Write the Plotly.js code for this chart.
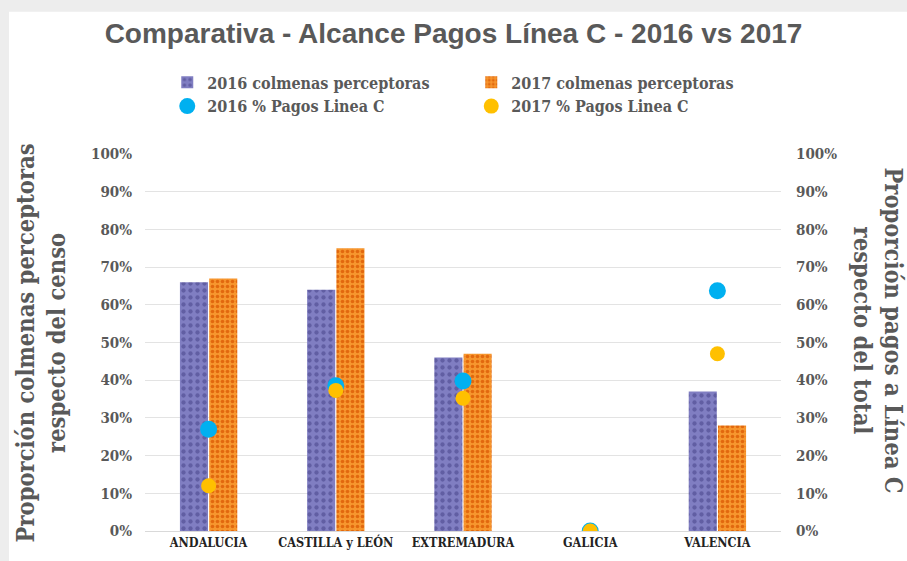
<!DOCTYPE html>
<html>
<head>
<meta charset="utf-8">
<script src="https://cdn.plot.ly/plotly-3.0.1.min.js"></script>
<style>html,body{margin:0;padding:0;background:#fff;}#chart{width:907px;height:561px;}</style>
</head>
<body>
<div id="chart"></div>
<script>
const categories = ["ANDALUCIA", "CASTILLA y LEÓN", "EXTREMADURA", "GALICIA", "VALENCIA"];
const colmenas2016 = [0.66, 0.64, 0.46, 0, 0.37];
const colmenas2017 = [0.67, 0.75, 0.47, 0, 0.28];
const pagos2016 = [0.27, 0.385, 0.398, 0, 0.637];
const pagos2017 = [0.12, 0.373, 0.352, 0, 0.47];
const seriesNames = ["2016 colmenas perceptoras", "2017 colmenas perceptoras", "2016 % Pagos Linea C", "2017 % Pagos Linea C"];

const serif = "DejaVu Serif Condensed, DejaVu Serif, serif";
const gray = "#595959";
const legendFont = {family: serif, size: 16, color: gray, weight: "bold"};

const traces = [
  {type: "bar", name: seriesNames[0], x: categories, y: colmenas2016, yaxis: "y", legend: "legend",
   marker: {color: "#7f7dc0", pattern: {shape: ".", bgcolor: "#807ec2", fgcolor: "#615ea3", size: 7, solidity: 0.3, fillmode: "replace"}}},
  {type: "bar", name: seriesNames[1], x: categories, y: colmenas2017, yaxis: "y", legend: "legend2",
   marker: {color: "#f5881f", pattern: {shape: ".", bgcolor: "#f7962e", fgcolor: "#e2680e", size: 5, solidity: 0.4, fillmode: "replace"}}},
  {type: "scatter", mode: "markers", name: seriesNames[2], x: categories, y: pagos2016, yaxis: "y2", legend: "legend",
   marker: {color: "#00b0f0", size: 17}},
  {type: "scatter", mode: "markers", name: seriesNames[3], x: categories, y: pagos2017, yaxis: "y2", legend: "legend2",
   marker: {color: "#ffc000", size: 15}}
];

const layout = {
  width: 907, height: 561,
  margin: {l: 145, r: 126, t: 154, b: 30},
  paper_bgcolor: "#fff", plot_bgcolor: "rgba(0,0,0,0)",
  barmode: "group", bargap: 0.54, bargroupgap: 0.04,
  showlegend: true,
  title: {text: "Comparativa - Alcance Pagos Línea C - 2016 vs 2017",
          font: {family: "Liberation Sans, Arial, sans-serif", size: 28, color: gray, weight: "bold"},
          x: 0.5, xanchor: "center", y: 0.94, yanchor: "middle"},
  legend: {orientation: "v", x: 0.035, xanchor: "left", y: 1.235, yanchor: "top",
           traceorder: "normal", font: legendFont, tracegroupgap: 0, bgcolor: "rgba(0,0,0,0)"},
  legend2: {orientation: "v", x: 0.513, xanchor: "left", y: 1.235, yanchor: "top",
           traceorder: "normal", font: legendFont, tracegroupgap: 0, bgcolor: "rgba(0,0,0,0)"},
  xaxis: {type: "category", tickfont: {family: serif, size: 12.5, color: "#222", weight: "bold"},
          showgrid: false, showline: true, linecolor: "#d9d9d9", ticks: "", ticklen: 0},
  yaxis: {range: [0, 1], dtick: 0.1, tickformat: ".0%", gridcolor: "#e3e3e3", zeroline: false,
          tickfont: {family: serif, size: 15, color: gray, weight: "bold"}, ticks: "", ticklabelstandoff: 12},
  yaxis2: {range: [0, 1], dtick: 0.1, tickformat: ".0%", overlaying: "y", side: "right", showgrid: false, zeroline: false,
           tickfont: {family: serif, size: 15, color: gray, weight: "bold"}, ticks: "", ticklabelstandoff: 14},
  shapes: [
    {type: "rect", xref: "paper", yref: "paper", x0: -0.23, x1: 1.2, y0: 1.377, y1: 1.42, fillcolor: "#ededed", line: {width: 0}, layer: "below"},
    {type: "rect", xref: "paper", yref: "paper", x0: -0.23, x1: -0.2138, y0: -0.09, y1: 1.42, fillcolor: "#ededed", line: {width: 0}, layer: "below"}
  ],
  annotations: [
    {text: "Proporción colmenas perceptoras<br>respecto del censo", textangle: -90, showarrow: false,
     xref: "paper", yref: "paper", x: -0.162, y: 0.50, xanchor: "center", yanchor: "middle",
     font: {family: serif, size: 23.5, color: gray, weight: "bold"}},
    {text: "Proporción pagos a Línea C<br>respecto del total", textangle: 90, showarrow: false,
     xref: "paper", yref: "paper", x: 1.152, y: 0.533, xanchor: "center", yanchor: "middle",
     font: {family: serif, size: 23.5, color: gray, weight: "bold"}}
  ]
};

Plotly.newPlot("chart", traces, layout, {displayModeBar: false, staticPlot: true});
</script>
</body>
</html>
